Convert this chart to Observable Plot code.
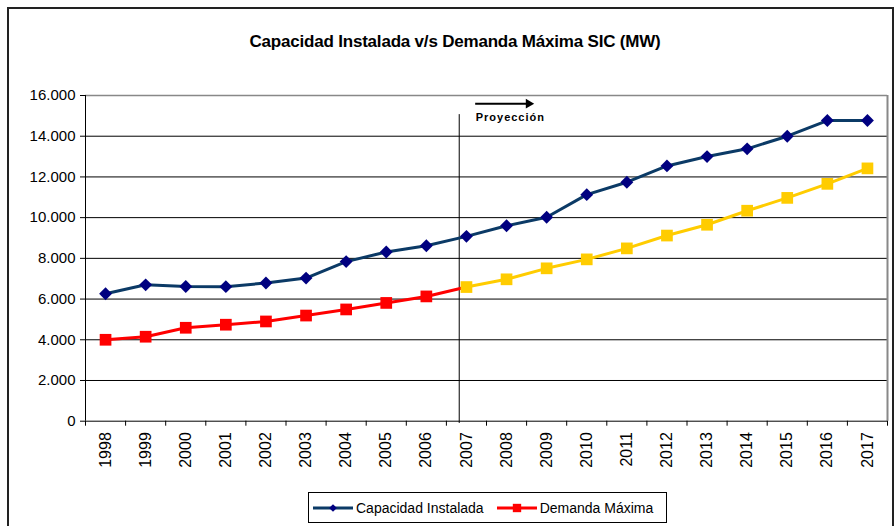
<!DOCTYPE html>
<html>
<head>
<meta charset="utf-8">
<script src="https://cdn.jsdelivr.net/npm/d3@7"></script>
<script src="https://cdn.jsdelivr.net/npm/@observablehq/plot@0.6"></script>
<style>
  html, body { margin: 0; padding: 0; background: #fff; overflow: hidden; }
  body { width: 894px; height: 526px; position: relative; font-family: "Liberation Sans", Arial, sans-serif; }
  #frame { position: absolute; left: 7px; top: 7px; width: 883px; height: 600px; border: 2px solid #222; pointer-events: none; }
  #title { height: 47px; padding-top: 33px; padding-left: 16px; text-align: center; font-size: 17px; line-height: 17px; font-weight: bold; letter-spacing: -0.2px; color: #000; }
  #chart svg { display: block; }
  .proj text { letter-spacing: 1px; }
  #legend { margin-top: 12px; margin-left: 308px; width: 357px; height: 29px; border: 1px solid #000; display: flex; align-items: center; font-size: 14px; color: #000; }
  #legend .item { display: flex; align-items: center; }
  #legend svg { display: block; margin-right: 3px; }
</style>
</head>
<body>
<div id="frame"></div>
<div id="title">Capacidad Instalada v/s Demanda Máxima SIC (MW)</div>
<div id="chart"></div>
<div id="legend"></div>
<script>
const years = [1998, 1999, 2000, 2001, 2002, 2003, 2004, 2005, 2006, 2007, 2008, 2009, 2010, 2011, 2012, 2013, 2014, 2015, 2016, 2017];
const capacidad = [6260, 6700, 6620, 6610, 6790, 7030, 7840, 8310, 8620, 9080, 9600, 10020, 11130, 11740, 12540, 13000, 13380, 14000, 14770, 14770];
const demanda = [4000, 4150, 4590, 4740, 4900, 5190, 5490, 5810, 6130, 6590, 6970, 7510, 7950, 8490, 9120, 9650, 10340, 10970, 11660, 12420];
const yTicks = [0, 2000, 4000, 6000, 8000, 10000, 12000, 14000, 16000];
const seriesNames = ["Capacidad Instalada", "Demanda Máxima"];
const projectionYear = 2007;
const projectionLabel = "Proyección";
// annotation positions (in data units)
const projectionLineX = 2006.82, projectionLineTop = 15060, projectionLineBottom = -110;
const arrowX1 = 2007.23, arrowX2 = 2008.55, arrowY = 15600, projLabelY = 14930;

const colors = { capLine: "#0B3A66", capMarker: "#000080", demHist: "#FF0000", demProj: "#FFCC00" };

const capData = years.map((year, i) => ({ year, value: capacidad[i] }));
const demData = years.map((year, i) => ({ year, value: demanda[i] }));
const demHist = demData.filter(d => d.year <= projectionYear);
const demProj = demData.filter(d => d.year >= projectionYear);
const demHistDots = demData.filter(d => d.year < projectionYear);

const boundaries = [...years.map(y => y - 0.5), years[years.length - 1] + 0.5];
const locale = d3.formatLocale({ decimal: ",", thousands: ".", grouping: [3], currency: ["$", ""] });
const fmt = locale.format(",");

const chart = Plot.plot({
  width: 894,
  height: 400,
  marginLeft: 85,
  marginRight: 7,
  marginTop: 15,
  marginBottom: 59.3,
  style: { fontFamily: "'Liberation Sans', Arial, sans-serif", background: "transparent", color: "#000" },
  x: { type: "linear", domain: [boundaries[0], boundaries[boundaries.length - 1]] },
  y: { domain: [0, 16000] },
  marks: [
    Plot.gridY(yTicks.filter(t => t > 0 && t < 16000), { stroke: "#000", strokeOpacity: 1, strokeWidth: 1 }),
    Plot.ruleY([16000], { stroke: "#888", strokeWidth: 1.5 }),
    Plot.ruleX([boundaries[boundaries.length - 1]], { stroke: "#888", strokeWidth: 2 }),
    Plot.ruleY([0], { stroke: "#000" }),
    Plot.ruleX([boundaries[0]], { stroke: "#000" }),
    Plot.axisY({ ticks: yTicks, tickFormat: fmt, tickSize: 5, tickPadding: 5, fontSize: 15, label: null, stroke: "#000" }),
    Plot.axisX({ ticks: boundaries, tickFormat: () => "", tickSize: 5, label: null, stroke: "#000" }),
    Plot.axisX({ ticks: years, tickFormat: d => String(d), tickSize: 0, tickPadding: 11, tickRotate: -90, fontSize: 16, label: null }),
    Plot.ruleX([projectionLineX], { y1: projectionLineBottom, y2: projectionLineTop, stroke: "#000", strokeWidth: 1 }),
    Plot.ruleY([arrowY], { x1: arrowX1, x2: arrowX2, stroke: "#000", strokeWidth: 2 }),
    Plot.dot([{ x: arrowX2, y: arrowY }], { x: "x", y: "y", symbol: "triangle", rotate: 90, r: 3.6, fill: "#000", stroke: "none" }),
    Plot.text([projectionLabel], { x: () => arrowX1, y: () => projLabelY, text: d => d, textAnchor: "start", fontWeight: "bold", fontSize: 11, className: "proj" }),
    Plot.line(demHist, { x: "year", y: "value", stroke: colors.demHist, strokeWidth: 3 }),
    Plot.line(demProj, { x: "year", y: "value", stroke: colors.demProj, strokeWidth: 3 }),
    Plot.dot(demHistDots, { x: "year", y: "value", symbol: "square", r: 6.6, fill: colors.demHist, stroke: "none" }),
    Plot.dot(demProj, { x: "year", y: "value", symbol: "square", r: 6.6, fill: colors.demProj, stroke: "none" }),
    Plot.line(capData, { x: "year", y: "value", stroke: colors.capLine, strokeWidth: 3 }),
    Plot.dot(capData, { x: "year", y: "value", symbol: "diamond2", r: 5.8, fill: colors.capMarker, stroke: "none" })
  ]
});
document.getElementById("chart").appendChild(chart);

// legend
const legend = d3.select("#legend");
const items = [
  { name: seriesNames[0], line: colors.capLine, marker: colors.capMarker, sym: d3.symbolDiamond2, size: 38, ml: 4 },
  { name: seriesNames[1], line: colors.demHist, marker: colors.demHist, sym: d3.symbolSquare, size: 70, ml: 13 }
];
items.forEach(it => {
  const g = legend.append("div").attr("class", "item").style("margin-left", it.ml + "px");
  const s = g.append("svg").attr("width", 40).attr("height", 14);
  s.append("line").attr("x1", 0).attr("x2", 40).attr("y1", 7).attr("y2", 7).attr("stroke", it.line).attr("stroke-width", 3);
  s.append("path").attr("transform", "translate(20,7)").attr("d", d3.symbol(it.sym, it.size)()).attr("fill", it.marker);
  g.append("span").text(it.name);
});
</script>
</body>
</html>
